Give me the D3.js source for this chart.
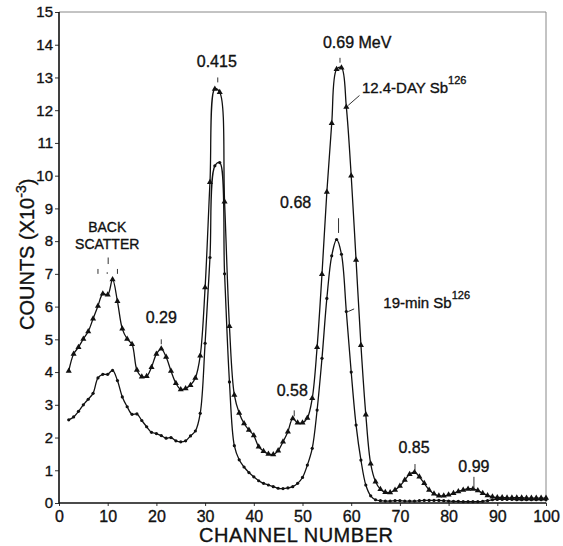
<!DOCTYPE html>
<html><head><meta charset="utf-8">
<script src="https://cdn.jsdelivr.net/npm/d3@7"></script>
<style>body{margin:0;background:#fff}svg{display:block}text{font-family:"Liberation Sans",Arial,sans-serif;fill:#111;stroke:#111;stroke-width:0.35px}</style>
</head><body><svg id="c" width="563" height="546"></svg>
<script>
// channel numbers (x)
const channels = [2,3,4,5,6,7,8,9,10,11,12,13,14,15,16,17,18,19,20,21,22,23,24,25,26,27,28,29,30,31,32,33,34,35,36,37,38,39,40,41,42,43,44,45,46,47,48,49,50,51,52,53,54,55,56,57,58,59,60,61,62,63,64,65,66,67,68,69,70,71,72,73,74,75,76,77,78,79,80,81,82,83,84,85,86,87,88,89,90,91,92,93,94,95,96,97,98,99,100];
// 12.4-day Sb126 counts (x10^3)
const day124 = [4.03,4.55,4.76,5.01,5.24,5.63,6.02,6.39,6.36,6.83,
  6.16,5.32,5.01,4.85,4.06,3.86,3.87,4.15,4.55,4.71,
  4.46,4.03,3.66,3.47,3.50,3.60,3.82,4.50,6.58,9.80,
  12.65,12.55,9.20,5.40,3.30,2.75,2.43,2.23,2.06,1.72,
  1.58,1.50,1.48,1.60,1.87,2.18,2.58,2.45,2.45,2.60,
  3.20,4.76,6.99,9.50,11.60,13.25,13.30,12.10,10.00,7.42,
  4.82,2.70,1.20,0.65,0.42,0.33,0.32,0.40,0.52,0.70,
  0.88,0.94,0.80,0.60,0.40,0.28,0.22,0.22,0.25,0.30,
  0.35,0.40,0.43,0.43,0.38,0.30,0.23,0.19,0.17,0.17,
  0.16,0.16,0.16,0.16,0.15,0.15,0.15,0.15,0.15];
// 19-min Sb126 counts (x10^3)
const min19 = [2.54,2.63,2.80,3.00,3.17,3.35,3.82,3.93,3.93,4.05,
  3.74,3.24,2.94,2.71,2.72,2.52,2.33,2.16,2.12,2.06,
  1.98,2.00,1.90,1.87,1.90,2.05,2.20,2.74,4.88,7.50,
  10.30,10.40,7.00,3.70,1.75,1.32,1.10,0.93,0.80,0.68,
  0.60,0.55,0.50,0.45,0.44,0.46,0.50,0.60,0.78,1.16,
  1.67,2.84,4.42,6.25,7.55,8.05,7.60,5.85,4.00,2.38,
  1.31,0.55,0.22,0.10,0.07,0.06,0.06,0.07,0.07,0.06,
  0.06,0.06,0.07,0.08,0.08,0.08,0.08,0.07,0.06,0.05,
  0.05,0.04,0.04,0.04,0.04,0.05,0.07,0.10,0.11,0.11,
  0.11,0.11,0.10,0.10,0.10,0.10,0.10,0.10,0.10];
const xTicks = [0,10,20,30,40,50,60,70,80,90,100];
const yTicks = [0,1,2,3,4,5,6,7,8,9,10,11,12,13,14,15];
// peak energy labels: text, channel, counts
const peakLabels = [
  {t:"0.415", ch:32.4, v:13.32, a:"middle"},
  {t:"0.69 MeV", ch:54.2, v:13.9, a:"start"},
  {t:"0.68", ch:45.4, v:9.0, a:"start"},
  {t:"0.29", ch:21.0, v:5.5, a:"middle"},
  {t:"0.58", ch:51.1, v:3.28, a:"end"},
  {t:"0.85", ch:72.9, v:1.53, a:"middle"},
  {t:"0.99", ch:85.2, v:0.95, a:"middle"}
];
// peak marker ticks: channel, from, to
const peakTicks = [
  {ch:32.6, v0:12.85, v1:13.0},
  {ch:57.7, v0:13.45, v1:13.6},
  {ch:57.4, v0:8.25, v1:8.7},
  {ch:21.0, v0:4.85, v1:5.0},
  {ch:48.3, v0:2.65, v1:2.83},
  {ch:73.1, v0:1.0, v1:1.19},
  {ch:85.2, v0:0.45, v1:0.8},
  {ch:10.1, v0:7.3, v1:7.5},
  {ch:9.9, v0:7.0, v1:7.05},
  {ch:8.0, v0:7.0, v1:7.15},
  {ch:12.0, v0:7.0, v1:7.15}
];

const svg = d3.select("#c");
svg.append("rect").attr("width",563).attr("height",546).attr("fill","#fff");
const x = d3.scaleLinear().domain([0,100]).range([59,546]);
const y = d3.scaleLinear().domain([0,15]).range([503,12]);

// frame
svg.append("path").attr("d",`M${x(0)},${y(15)}H${x(100)}V${y(0)}`).attr("fill","none").attr("stroke","#888").attr("stroke-width",1);

const gx = svg.append("g").attr("transform",`translate(0,${y(0)})`)
  .call(d3.axisBottom(x).tickValues(xTicks).tickSize(3).tickPadding(5).tickFormat(d3.format("d")));
gx.selectAll("text").style("font-size","16px");
const gy = svg.append("g").attr("transform",`translate(${x(0)},0)`)
  .call(d3.axisLeft(y).tickValues(yTicks).tickSize(4).tickPadding(2).tickFormat(d3.format("d")));
gy.selectAll("text").style("font-size","15px");
svg.selectAll(".domain").remove();
svg.selectAll(".tick line").attr("stroke","#333");
svg.append("path").attr("d",`M${x(0)},${y(15)}V${y(0)}H${x(100)}`).attr("fill","none").attr("stroke","#111").attr("stroke-width",1.6);

const line = d3.line().x(d=>x(d[0])).y(d=>y(d[1])).curve(d3.curveCatmullRom.alpha(0.5));
const s1 = channels.map((c,i)=>[c,day124[i]]);
const s2 = channels.map((c,i)=>[c,min19[i]]);
svg.append("path").attr("d",line(s1)).attr("fill","none").attr("stroke","#111").attr("stroke-width",1.3);
svg.append("path").attr("d",line(s2)).attr("fill","none").attr("stroke","#111").attr("stroke-width",1.3);
const tri = d3.symbol().type(d3.symbolTriangle).size(16);
svg.append("g").selectAll("path").data(s1).join("path").attr("d",tri)
  .attr("transform",d=>`translate(${x(d[0])},${y(d[1])})`).attr("fill","#111");
svg.append("g").selectAll("circle").data(s2).join("circle")
  .attr("cx",d=>x(d[0])).attr("cy",d=>y(d[1])).attr("r",1.6).attr("fill","#111");

// peak ticks
svg.append("g").selectAll("line").data(peakTicks).join("line")
  .attr("x1",d=>x(d.ch)).attr("x2",d=>x(d.ch)).attr("y1",d=>y(d.v0)).attr("y2",d=>y(d.v1))
  .attr("stroke","#333").attr("stroke-width",1);

// labels
svg.append("g").selectAll("text").data(peakLabels).join("text")
  .attr("x",d=>x(d.ch)).attr("y",d=>y(d.v)).attr("text-anchor",d=>d.a)
  .style("font-size","16px").text(d=>d.t);

svg.append("text").attr("x",x(9.9)).attr("y",y(8.28)).attr("text-anchor","middle").style("font-size","14px").text("BACK");
svg.append("text").attr("x",x(9.9)).attr("y",y(7.76)).attr("text-anchor","middle").style("font-size","14px").text("SCATTER");

// 12.4-day label
const t1 = svg.append("text").attr("x",x(62.2)).attr("y",y(12.53)).style("font-size","15px");
t1.append("tspan").text("12.4-DAY Sb");
t1.append("tspan").attr("dy",-9).style("font-size","11px").text("126");
svg.append("line").attr("x1",x(59.4)).attr("y1",y(12.15)).attr("x2",x(61.7)).attr("y2",y(12.45)).attr("stroke","#333");
// 19-min label
const t2 = svg.append("text").attr("x",x(66.6)).attr("y",y(5.95)).style("font-size","15px");
t2.append("tspan").text("19-min Sb");
t2.append("tspan").attr("dy",-9).style("font-size","11px").text("126");
svg.append("line").attr("x1",x(59.4)).attr("y1",y(5.85)).attr("x2",x(60.6)).attr("y2",y(5.93)).attr("stroke","#333");

// axis titles
svg.append("text").attr("x",296).attr("y",542).attr("text-anchor","middle")
  .attr("textLength",194).attr("lengthAdjust","spacing").style("font-size","20px").text("CHANNEL NUMBER");
const yt = svg.append("text").attr("transform","translate(34,330) rotate(-90)").style("font-size","20px");
yt.append("tspan").text("COUNTS (X10");
yt.append("tspan").attr("dy",-8).style("font-size","14px").text("-3");
yt.append("tspan").attr("dy",8).text(")");
</script></body></html>
